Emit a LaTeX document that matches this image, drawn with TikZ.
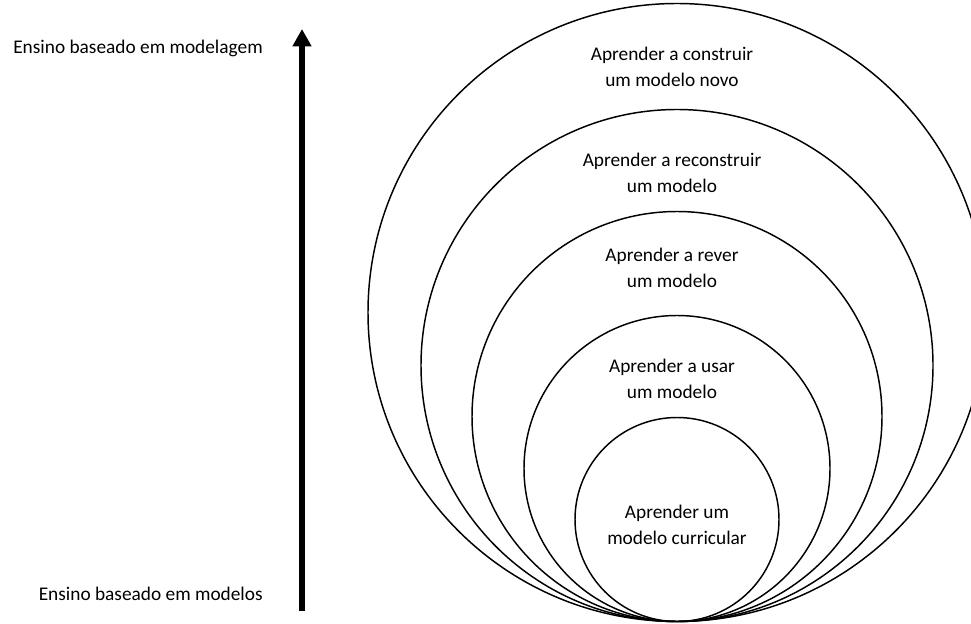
\documentclass[tikz,border=0pt]{standalone}
\usepackage{fontspec}
\setmainfont{Carlito}
\usetikzlibrary{arrows.meta}
\begin{document}
\begin{tikzpicture}[x=0.75pt, y=-0.75pt,
                    ring/.style = {line width=1.1pt},
                    txt/.style = {align=center, inner sep=0pt, font=\fontsize{14.5}{19}\selectfont},
                    eixo/.style = {line width=4.5pt, -{Triangle[width=13.5pt,length=13pt]}}]
                    \useasboundingbox (0,0) rectangle (971,624);

                    \draw[ring] (677,312.5) circle [radius=309];
                    \draw[ring] (677,365.5) circle [radius=256];
                    \draw[ring] (677,416.5) circle [radius=205];
                    \draw[ring] (677,468.5) circle [radius=153];
                    \draw[ring] (677,519.5) circle [radius=102];

                    \node[txt] (construir) at (672,67) {Aprender a construir\\um modelo novo};
                    \node[txt] (reconstruir) at (672,173) {Aprender a reconstruir\\um modelo};
                    \node[txt] (rever) at (672,268) {Aprender a rever\\um modelo};
                    \node[txt] (usar) at (672,379) {Aprender a usar\\um modelo};
                    \node[txt] (curricular) at (677,525) {Aprender um\\modelo curricular};

                    \node[txt, anchor=east] (modelagem) at (263,48) {Ensino baseado em modelagem};
                    \node[txt, anchor=east] (modelos) at (263,594) {Ensino baseado em modelos};

                    \coordinate (base) at (302,611);
                    \coordinate (topo) at (302,29);
                    \draw[eixo] (base) -- (topo);
                \end{tikzpicture}
\end{document}
